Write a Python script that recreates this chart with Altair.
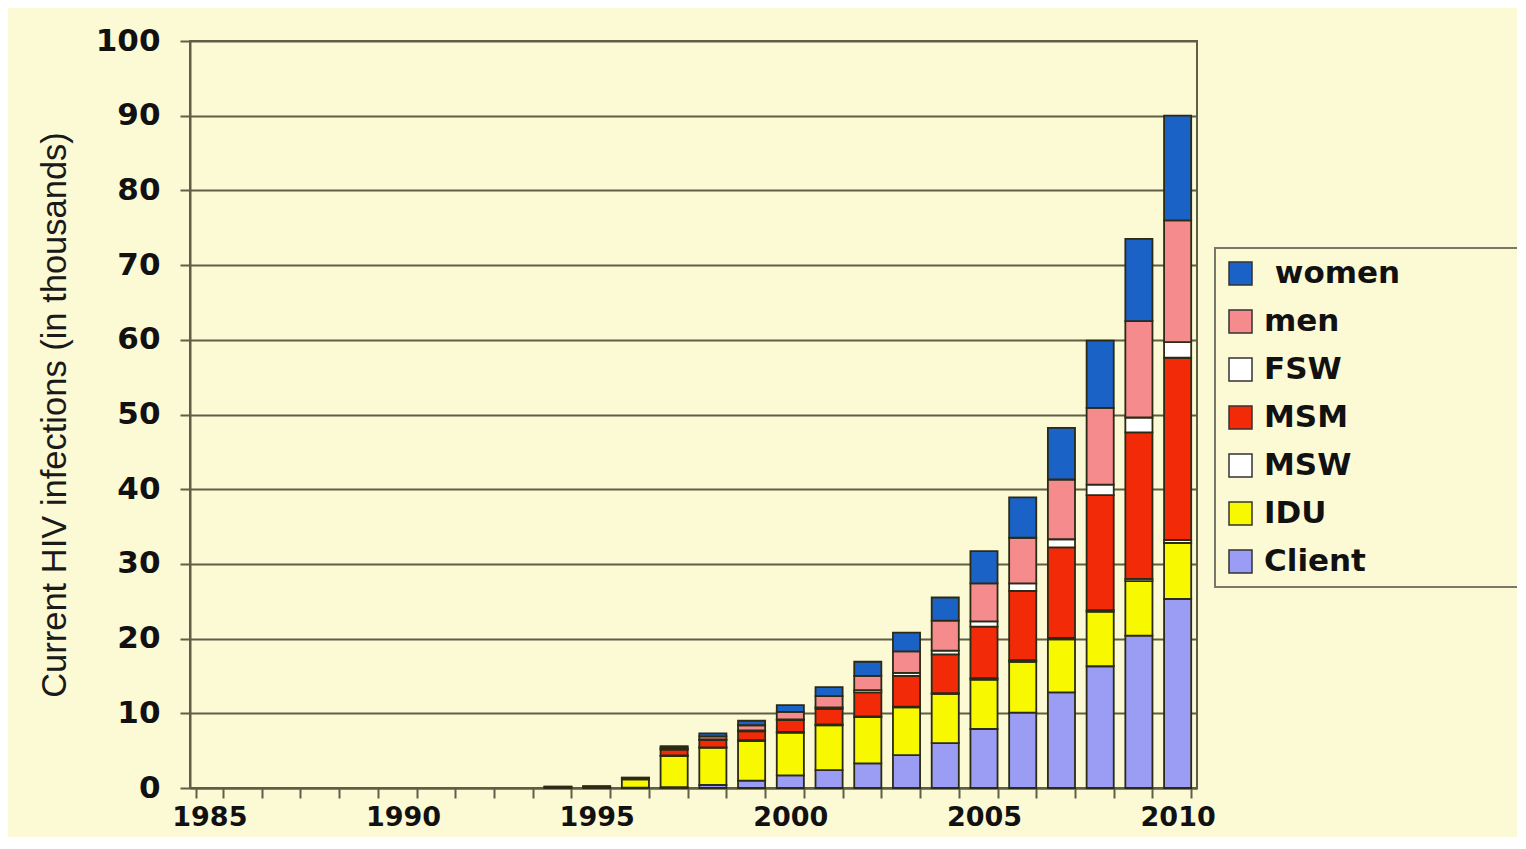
import altair as alt
import pandas as pd

years = list(range(1985, 2011))
groups = ["women", "men", "FSW", "MSM", "MSW", "IDU", "Client"]
colors = ["#1b62c6", "#f58b8d", "#ffffff", "#f32a08", "#ffffff", "#f8f800", "#9b9df5"]
stack_rank = {"Client": 0, "IDU": 1, "MSW": 2, "MSM": 3, "FSW": 4, "men": 5, "women": 6}

#           1985..1993 (9 zeros)        1994  1995  1996  1997  1998  1999  2000  2001  2002  2003  2004  2005  2006  2007  2008  2009  2010
client = [0, 0, 0, 0, 0, 0, 0, 0, 0,   0.0,  0.0,  0.05, 0.1,  0.4,  1.0,  1.7,  2.4,  3.3,  4.4,  6.0,  7.9,  10.1, 12.8, 16.3, 20.4, 25.3]
idu    = [0, 0, 0, 0, 0, 0, 0, 0, 0,   0.15, 0.2,  1.1,  4.2,  5.0,  5.3,  5.7,  6.0,  6.2,  6.4,  6.6,  6.6,  6.8,  7.1,  7.3,  7.3,  7.5]
msw    = [0, 0, 0, 0, 0, 0, 0, 0, 0,   0.0,  0.0,  0.0,  0.05, 0.05, 0.1,  0.1,  0.1,  0.1,  0.1,  0.1,  0.2,  0.2,  0.2,  0.2,  0.3,  0.4]
msm    = [0, 0, 0, 0, 0, 0, 0, 0, 0,   0.05, 0.05, 0.15, 0.8,  1.0,  1.2,  1.6,  2.1,  3.2,  4.1,  5.2,  6.9,  9.3,  12.1, 15.4, 19.6, 24.4]
fsw    = [0, 0, 0, 0, 0, 0, 0, 0, 0,   0.0,  0.0,  0.0,  0.05, 0.05, 0.1,  0.1,  0.2,  0.3,  0.4,  0.5,  0.7,  1.0,  1.1,  1.4,  2.0,  2.1]
men    = [0, 0, 0, 0, 0, 0, 0, 0, 0,   0.0,  0.0,  0.05, 0.2,  0.4,  0.7,  1.0,  1.5,  1.9,  2.9,  4.0,  5.1,  6.1,  8.0,  10.3, 12.9, 16.3]
women  = [0, 0, 0, 0, 0, 0, 0, 0, 0,   0.0,  0.0,  0.05, 0.2,  0.4,  0.6,  0.9,  1.2,  1.9,  2.5,  3.1,  4.3,  5.4,  6.9,  9.0,  11.0, 14.0]

series = {"Client": client, "IDU": idu, "MSW": msw, "MSM": msm, "FSW": fsw, "men": men, "women": women}
y_ticks = list(range(0, 101, 10))

rows = []
for g, vals in series.items():
    for yr, v in zip(years, vals):
        if v > 0:
            rows.append({"year": yr, "group": g, "value": v, "rank": stack_rank[g]})
df = pd.DataFrame(rows)

BG = "#fcf9d5"
LINE = "#5f5f48"

# zero-width chars keep the padding spaces from being trimmed, so the legend box reaches the right edge
legend_expr = ("datum.label == 'women' ? "
               "'\\u200b\\u00a0women\\u2003\\u2003\\u2003\\u00a0\\u00a0\\u200b' : datum.label")

chart = alt.Chart(df).mark_bar(stroke="#2a2a15", strokeWidth=1.8).encode(
    x=alt.X("year:O",
            scale=alt.Scale(domain=years, paddingInner=0.3, paddingOuter=0.15),
            axis=alt.Axis(title=None, labelAngle=0, tickBand="extent",
                          labelExpr="datum.value % 5 == 0 ? datum.label : ''",
                          labelFont="DejaVu Sans", labelFontWeight="bold", labelFontSize=27,
                          labelColor="#111111", labelPadding=6, tickSize=10, tickWidth=2,
                          tickColor=LINE, domainColor=LINE, domainWidth=2, grid=False)),
    y=alt.Y("value:Q",
            scale=alt.Scale(domain=[0, 100], nice=False),
            axis=alt.Axis(title="Current HIV infections (in thousands)", values=y_ticks,
                          labelFont="DejaVu Sans", labelFontWeight="bold", labelFontSize=31,
                          labelColor="#111111", labelPadding=20, tickSize=10, tickWidth=2,
                          tickColor=LINE, domainColor=LINE, domainWidth=2,
                          grid=True, gridColor=LINE, gridWidth=2, gridOpacity=1,
                          titleFont="Liberation Sans", titleFontSize=34.5, titleFontWeight="normal",
                          titleColor="#1a1a1a", titlePadding=23)),
    color=alt.Color("group:N",
                    scale=alt.Scale(domain=groups, range=colors),
                    legend=alt.Legend(title=None, orient="none", legendX=1025, legendY=207,
                                      labelExpr=legend_expr, labelLimit=600,
                                      labelFont="DejaVu Sans", labelFontWeight="bold",
                                      labelFontSize=31, labelColor="#111111", labelOffset=8,
                                      symbolType="square", symbolSize=529,
                                      symbolStrokeColor="#333333", symbolStrokeWidth=1.5,
                                      rowPadding=16, padding=10,
                                      fillColor=BG, strokeColor="#77776a")),
    order=alt.Order("rank:Q", sort="ascending"),
).properties(
    width=1007,
    height=747,
    autosize=alt.AutoSizeParams(type="none"),
    padding={"left": 182, "top": 33, "right": 320, "bottom": 49},
    background=BG,
).configure_view(stroke=LINE, strokeWidth=2).configure_legend(strokeWidth=2)

chart.save("out.html", embed_options={"renderer": "svg", "actions": False})
